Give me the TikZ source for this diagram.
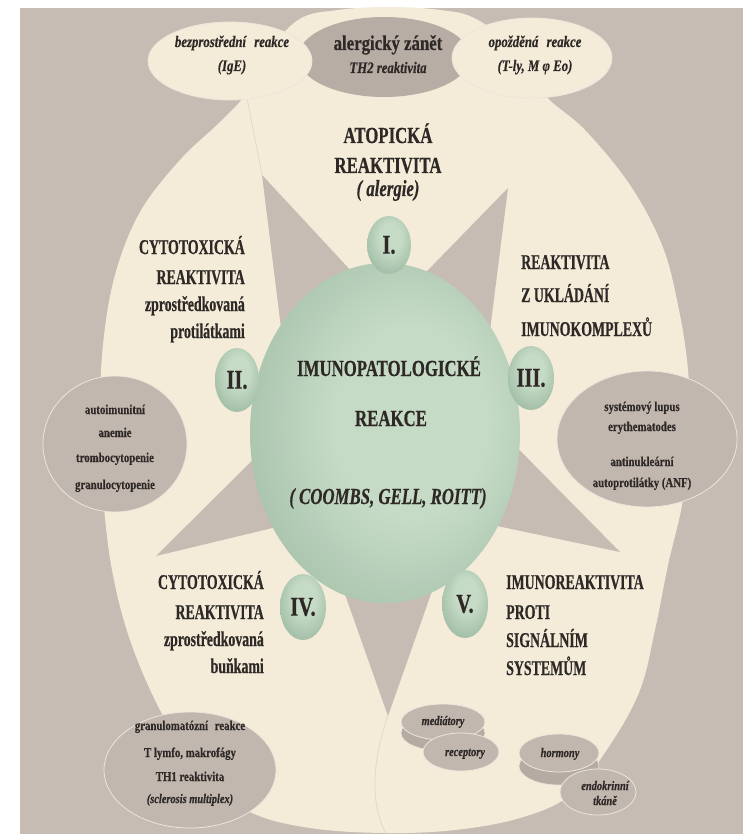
\documentclass[tikz,border=0pt]{standalone}
\usepackage{fontspec}
\setmainfont{Liberation Serif}
\newfontfamily\fA{Liberation Serif}[FakeStretch=0.66, BoldFeatures={FakeBold=0.5}, BoldItalicFeatures={FakeBold=0.5}]
\newfontfamily\fB{Liberation Serif}[FakeStretch=0.73, BoldFeatures={FakeBold=0.5}, BoldItalicFeatures={FakeBold=0.5}]
\newfontfamily\fC{Liberation Serif}[FakeStretch=0.8, BoldFeatures={FakeBold=0.4}, BoldItalicFeatures={FakeBold=0.4}]
\newfontfamily\fD{Liberation Serif}[FakeStretch=0.76, BoldFeatures={FakeBold=0.6}]
\usetikzlibrary{shapes.geometric}
\definecolor{bg}{HTML}{C6BCB4}
\definecolor{cream}{HTML}{F4ECD9}
\definecolor{petal}{HTML}{E2D8C4}
\definecolor{gell}{HTML}{C1B7AF}
\definecolor{gelld}{HTML}{B5ABA3}
\definecolor{gmid}{HTML}{B8ADA5}
\definecolor{rimc}{HTML}{ECE5DA}
\definecolor{ink}{HTML}{2E2826}
\definecolor{gl}{HTML}{C6DBC6}
\definecolor{gm}{HTML}{9EBBA4}
\definecolor{gd}{HTML}{7B9986}
\pgfdeclareradialshading{gball}{\pgfpoint{6bp}{2bp}}{color(0bp)=(gl); color(14bp)=(gl); color(36bp)=(gm); color(47bp)=(gd); color(70bp)=(gd)}
\pgfdeclareradialshading{gsmall}{\pgfpoint{2bp}{8bp}}{color(0bp)=(gl); color(12bp)=(gl); color(32bp)=(gm); color(47bp)=(gd); color(70bp)=(gd)}
\begin{document}
\begin{tikzpicture}[x=1pt,y=-1pt,
  greyell/.style={ellipse, fill=gell, draw=rimc, line width=0.8pt, inner sep=0pt},
  creamell/.style={ellipse, fill=cream, draw=rimc, line width=0.8pt, inner sep=0pt},
  rimell/.style={ellipse, fill=gelld, draw=rimc, line width=0.6pt, inner sep=0pt},
  bigball/.style={ellipse, shading=gball, inner sep=0pt},
  numball/.style={ellipse, shading=gsmall, inner sep=0pt, font=\fD\bfseries\fontsize{27}{30}\selectfont, text=ink},
  head/.style={font=\fB\bfseries\fontsize{23}{27}\selectfont, text=ink, inner sep=0pt},
  headit/.style={font=\fB\bfseries\itshape\fontsize{23}{27}\selectfont, text=ink, inner sep=0pt},
  main/.style={font=\fA\bfseries\fontsize{21}{25}\selectfont, text=ink, inner sep=0pt},
  topt/.style={font=\fC\bfseries\itshape\fontsize{16}{19}\selectfont, text=ink, inner sep=0pt},
  topb/.style={font=\fC\bfseries\fontsize{21}{24}\selectfont, text=ink, inner sep=0pt},
  small/.style={font=\fC\bfseries\fontsize{13.5}{16}\selectfont, text=ink, inner sep=0pt},
  smallit/.style={font=\fC\bfseries\itshape\fontsize{13}{15}\selectfont, text=ink, inner sep=0pt}]
\useasboundingbox (0,0) rectangle (743,834);
\fill[white] (0,0) rectangle (743,834);
\fill[bg] (20,8) rectangle (743,834);
% cream body
\fill[cream] plot[smooth cycle, tension=0.6] coordinates {
 (388,7) (440,10) (478,20) (530,60) (545,95) (585,130) (630,185) (662,245)
 (678,305) (688,370) (690,440) (682,505) (668,565) (655,630) (640,690)
 (610,745) (570,795) (520,818) (455,830) (385,833) (310,828) (250,812)
 (200,775) (160,710) (130,640) (112,570) (103,495) (100,420) (103,345)
 (115,275) (140,212) (180,160) (220,122) (245,95) (262,60) (298,20) (338,10)};
% grey star spikes
\fill[bg] (262,175) -- (380,302) -- (290,400) -- cycle;
\fill[bg] (508,188) -- (395,304) -- (485,370) -- cycle;
\fill[bg] (620,552) -- (480,410) -- (450,516) -- cycle;
\fill[bg] (388,716) -- (330,552) -- (450,540) -- cycle;
\fill[bg] (156,556) -- (290,423) -- (310,519) -- cycle;
% faint petal seams
\draw[petal, line width=0.8pt] (247,98) -- (262,175);
\draw[petal, line width=0.8pt] (388,716) .. controls (372,760) and (370,805) .. (386,833);
% top ellipses
\node[ellipse, fill=gmid, inner sep=0pt, minimum width=172pt, minimum height=80pt] (midE) at (384,57) {};
\node[creamell, minimum width=164pt, minimum height=78pt] (leftE) at (230,61) {};
\node[creamell, minimum width=160pt, minimum height=80pt] (rightE) at (532,58) {};
% side grey ellipses
\node[greyell, minimum width=144pt, minimum height=136pt] (autoE) at (115,444) {};
\node[greyell, minimum width=180pt, minimum height=136pt] (lupusE) at (647,439) {};
\node[greyell, minimum width=172pt, minimum height=116pt] (granE) at (190,770) {};
% signal discs
\node[rimell, minimum width=84pt, minimum height=36pt] (medR) at (443,733) {};
\node[greyell, minimum width=84pt, minimum height=36pt] (medE) at (443,722) {};
\node[greyell, minimum width=76pt, minimum height=38pt] (recE) at (461,752) {};
\node[rimell, minimum width=80pt, minimum height=38pt] (horR) at (559,766) {};
\node[greyell, minimum width=80pt, minimum height=38pt] (horE) at (559,753) {};
\node[greyell, minimum width=76pt, minimum height=46pt] (endE) at (598,792) {};
% central ball
\node[bigball, minimum width=270pt, minimum height=340pt] (core) at (385,433) {};
\node[numball, minimum width=44pt, minimum height=58pt] (n1) at (389,245) {I.};
\node[numball, minimum width=44pt, minimum height=64pt] (n2) at (237,380) {II.};
\node[numball, minimum width=46pt, minimum height=64pt] (n3) at (531,378) {III.};
\node[numball, minimum width=46pt, minimum height=66pt] (n4) at (303,607) {IV.};
\node[numball, minimum width=46pt, minimum height=68pt] (n5) at (465,604) {V.};
% top texts
\node[topt, anchor=base] (tl1) at (232,47) {bezprostřední\hspace{5pt} reakce};
\node[topt, anchor=base] (tl2) at (232,71) {(IgE)};
\node[topb, anchor=base] (tm1) at (388,50) {alergický zánět};
\node[topt, anchor=base] (tm2) at (388,73) {TH2 reaktivita};
\node[topt, anchor=base] (tr1) at (535,47) {opožděná\hspace{5pt} reakce};
\node[topt, anchor=base] (tr2) at (535,71) {(T-ly, M φ Eo)};
% heading I
\node[head, anchor=base] (h1) at (388,143) {ATOPICKÁ};
\node[head, anchor=base] (h2) at (388,173) {REAKTIVITA};
\node[headit, anchor=base] (h3) at (388,196) {( alergie)};
% block II
\node[main, anchor=base east] (a1) at (245,254) {CYTOTOXICKÁ};
\node[main, anchor=base east] (a2) at (245,284) {REAKTIVITA};
\node[main, anchor=base east] (a3) at (245,311) {zprostředkovaná};
\node[main, anchor=base east] (a4) at (245,338) {protilátkami};
% block III
\node[main, anchor=base west] (b1) at (521,269) {REAKTIVITA};
\node[main, anchor=base west] (b2) at (521,302) {Z UKLÁDÁNÍ};
\node[main, anchor=base west] (b3) at (521,336) {IMUNOKOMPLEXŮ};
% centre
\node[head, anchor=base] (c1) at (389,376) {IMUNOPATOLOGICKÉ};
\node[head, anchor=base] (c2) at (391,426) {REAKCE};
\node[headit, anchor=base] (c3) at (388,504) {( COOMBS, GELL, ROITT)};
% block IV
\node[main, anchor=base east] (d1) at (264,589) {CYTOTOXICKÁ};
\node[main, anchor=base east] (d2) at (264,619) {REAKTIVITA};
\node[main, anchor=base east] (d3) at (264,646) {zprostředkovaná};
\node[main, anchor=base east] (d4) at (264,673) {buňkami};
% block V
\node[main, anchor=base west] (e1) at (506,589) {IMUNOREAKTIVITA};
\node[main, anchor=base west] (e2) at (506,619) {PROTI};
\node[main, anchor=base west] (e3) at (506,647) {SIGNÁLNÍM};
\node[main, anchor=base west] (e4) at (506,675) {SYSTEMŮM};
% side ellipse texts
\node[small, anchor=base] (s1) at (115,414) {autoimunitní};
\node[small, anchor=base] (s2) at (115,437) {anemie};
\node[small, anchor=base] (s3) at (115,462) {trombocytopenie};
\node[small, anchor=base] (s4) at (115,489) {granulocytopenie};
\node[small, anchor=base] (l1) at (642,411) {systémový lupus};
\node[small, anchor=base] (l2) at (642,431) {erythematodes};
\node[small, anchor=base] (l3) at (642,466) {antinukleární};
\node[small, anchor=base] (l4) at (642,487) {autoprotilátky (ANF)};
\node[small, anchor=base] (g1) at (190,730) {granulomatózní\hspace{4pt} reakce};
\node[small, anchor=base] (g2) at (190,757) {T lymfo, makrofágy};
\node[small, anchor=base] (g3) at (190,781) {TH1 reaktivita};
\node[smallit, anchor=base] (g4) at (190,803) {(sclerosis multiplex)};
\node[smallit, anchor=base] (m1) at (443,725) {mediátory};
\node[smallit, anchor=base] (m2) at (465,756) {receptory};
\node[smallit, anchor=base] (m3) at (560,757) {hormony};
\node[smallit, anchor=base] (m4) at (605,790) {endokrinní};
\node[smallit, anchor=base] (m5) at (605,805) {tkáně};
\end{tikzpicture}
\end{document}
